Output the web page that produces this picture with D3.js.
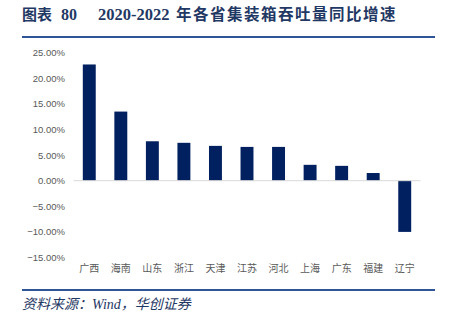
<!DOCTYPE html>
<html><head><meta charset="utf-8">
<script src="https://cdn.jsdelivr.net/npm/d3@7"></script>
<style>body{margin:0;background:#fff}svg{display:block}</style>
</head><body>
<script>
const categories = ["广西","海南","山东","浙江","天津","江苏","河北","上海","广东","福建","辽宁"];
const values = [22.7, 13.5, 7.7, 7.4, 6.8, 6.6, 6.6, 3.1, 2.9, 1.5, -10.0];
const yTicks = [25, 20, 15, 10, 5, 0, -5, -10, -15];
const titleParts = ["图表", "80", "2020-2022", "年各省集装箱吞吐量同比增速"];
const sourceText = "资料来源：Wind，华创证券";

const W = 449, H = 327;
const svg = d3.select("body").append("svg").attr("width", W).attr("height", H);
const navy = "#1f3864";
const serif = "'Liberation Serif',serif";
const cjk = "'Noto Sans CJK SC',sans-serif";

const title = svg.append("text").attr("y", 20).attr("font-weight", "bold").attr("fill", navy).attr("font-size", 16);
title.append("tspan").attr("x", 22).attr("font-family", cjk).attr("font-size", 15).text(titleParts[0]);
title.append("tspan").attr("x", 61).attr("font-family", serif).text(titleParts[1]);
title.append("tspan").attr("x", 98).attr("font-family", serif).attr("font-size", 16.5).text(titleParts[2]);
title.append("tspan").attr("x", 176).attr("font-family", cjk).attr("font-size", 15.5)
  .attr("letter-spacing", 1.5).text(titleParts[3]);

svg.append("line").attr("x1", 22).attr("x2", 435).attr("y1", 37).attr("y2", 37)
  .attr("stroke", "#2f5597").attr("stroke-width", 2);
svg.append("line").attr("x1", 22).attr("x2", 435).attr("y1", 290).attr("y2", 290)
  .attr("stroke", "#2f5597").attr("stroke-width", 2);
svg.append("text").attr("x", 22).attr("y", 309)
  .attr("font-family", "'Liberation Serif','Noto Sans CJK SC',serif")
  .attr("font-style", "italic").attr("font-size", 14).attr("fill", navy)
  .text(sourceText);

const x = d3.scaleBand().domain(categories).range([73.5, 420.5]).paddingInner(0.59).paddingOuter(0.295);
const y = d3.scaleLinear().domain([-15, 25]).range([257.5, 52.7]);

const g = svg.append("g");
g.selectAll("rect").data(values).join("rect")
  .attr("x", (d, i) => x(categories[i]))
  .attr("width", x.bandwidth())
  .attr("y", d => y(Math.max(0, d)))
  .attr("height", d => Math.abs(y(d) - y(0)))
  .attr("fill", "#002060");

g.append("line").attr("x1", 73.5).attr("x2", 420.5).attr("y1", y(0)).attr("y2", y(0))
  .attr("stroke", "#d9d9d9").attr("stroke-width", 1);

const yAxis = d3.axisLeft(y).tickValues(yTicks).tickSize(0).tickPadding(0)
  .tickFormat(d => d3.format(".2f")(d) + "%");
const ya = svg.append("g").attr("transform", "translate(65,0)").call(yAxis);
ya.select(".domain").remove();
ya.selectAll("text").attr("font-family", "'Liberation Sans',Arial,sans-serif")
  .attr("font-size", 9.5).attr("fill", "#595959");

const xAxis = d3.axisBottom(x).tickSize(0).tickPadding(0);
const xa = svg.append("g").attr("transform", "translate(0,265)").call(xAxis);
xa.select(".domain").remove();
xa.selectAll("text").attr("font-family", "'Noto Sans CJK SC',sans-serif")
  .attr("font-size", 10).attr("fill", "#595959");
</script>
</body></html>
